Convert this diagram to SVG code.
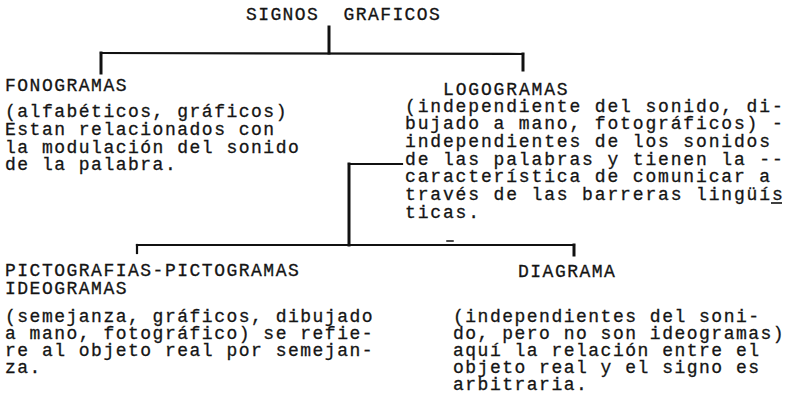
<svg xmlns="http://www.w3.org/2000/svg" width="787" height="396" viewBox="0 0 787 396">
<style>
text{font-family:"Liberation Mono","Courier New",monospace;font-size:18px;fill:#141414;stroke:#141414;stroke-width:0.3}
.l{letter-spacing:1.5px}
.r{letter-spacing:1.85px}
.d{letter-spacing:1.5px}
.t{letter-spacing:1.4px}
.c line{stroke:#111;stroke-width:2.2;stroke-linecap:square}
.c .th{stroke-width:3}
</style>
<rect width="787" height="396" fill="#fff"/>
<g class="c" id="connectors">
<line class="th" x1="329" y1="27" x2="329" y2="53"/>
<line x1="101" y1="53" x2="523" y2="54"/>
<line class="th" x1="101" y1="53" x2="101" y2="73"/>
<line class="th" x1="523" y1="54" x2="523" y2="70"/>
<line class="th" x1="349" y1="164" x2="349" y2="245"/>
<line x1="349" y1="164" x2="402" y2="164"/>
<line x1="137" y1="245" x2="574" y2="245"/>
<line x1="137" y1="245" x2="137" y2="253"/>
<line class="th" x1="574" y1="245" x2="574" y2="255"/>
<line x1="447" y1="241" x2="453" y2="241" style="stroke-width:1.5"/>
</g>
<g id="root">
<text class="t" x="246" y="20" xml:space="preserve">SIGNOS  GRAFICOS</text>
</g>
<g id="fonogramas">
<text class="l" x="5" y="91">FONOGRAMAS</text>
<text class="l" x="5" y="117">(alfabéticos, gráficos)</text>
<text class="l" x="5" y="135">Estan relacionados con</text>
<text class="l" x="5" y="153">la modulación del sonido</text>
<text class="l" x="5" y="170">de la palabra.</text>
</g>
<g id="logogramas">
<text class="r" x="443" y="95">LOGOGRAMAS</text>
<text class="r" x="405" y="112">(independiente del sonido, di-</text>
<text class="r" x="405" y="129">bujado a mano, fotográficos) -</text>
<text class="r" x="405" y="147">independientes de los sonidos</text>
<text class="r" x="405" y="165">de las palabras y tienen la --</text>
<text class="r" x="405" y="182">característica de comunicar a</text>
<text class="r" x="405" y="200">través de las barreras lingüís</text>
<line x1="771" y1="203" x2="782" y2="203" stroke="#111" stroke-width="1.6"/>
<text class="r" x="405" y="218">ticas.</text>
</g>
<g id="pictografias">
<text class="l" x="5" y="276">PICTOGRAFIAS-PICTOGRAMAS</text>
<text class="l" x="5" y="294">IDEOGRAMAS</text>
<text class="l" x="5" y="322">(semejanza, gráficos, dibujado</text>
<text class="l" x="5" y="339">a mano, fotográfico) se refie-</text>
<text class="l" x="5" y="356">re al objeto real por semejan-</text>
<text class="l" x="5" y="373">za.</text>
</g>
<g id="diagrama">
<text class="d" x="518" y="277">DIAGRAMA</text>
<text class="d" x="453" y="322">(independientes del soni-</text>
<text class="d" x="453" y="339">do, pero no son ideogramas)</text>
<text class="d" x="453" y="356">aquí la relación entre el</text>
<text class="d" x="453" y="373">objeto real y el signo es</text>
<text class="d" x="453" y="390">arbitraria.</text>
</g>
</svg>
